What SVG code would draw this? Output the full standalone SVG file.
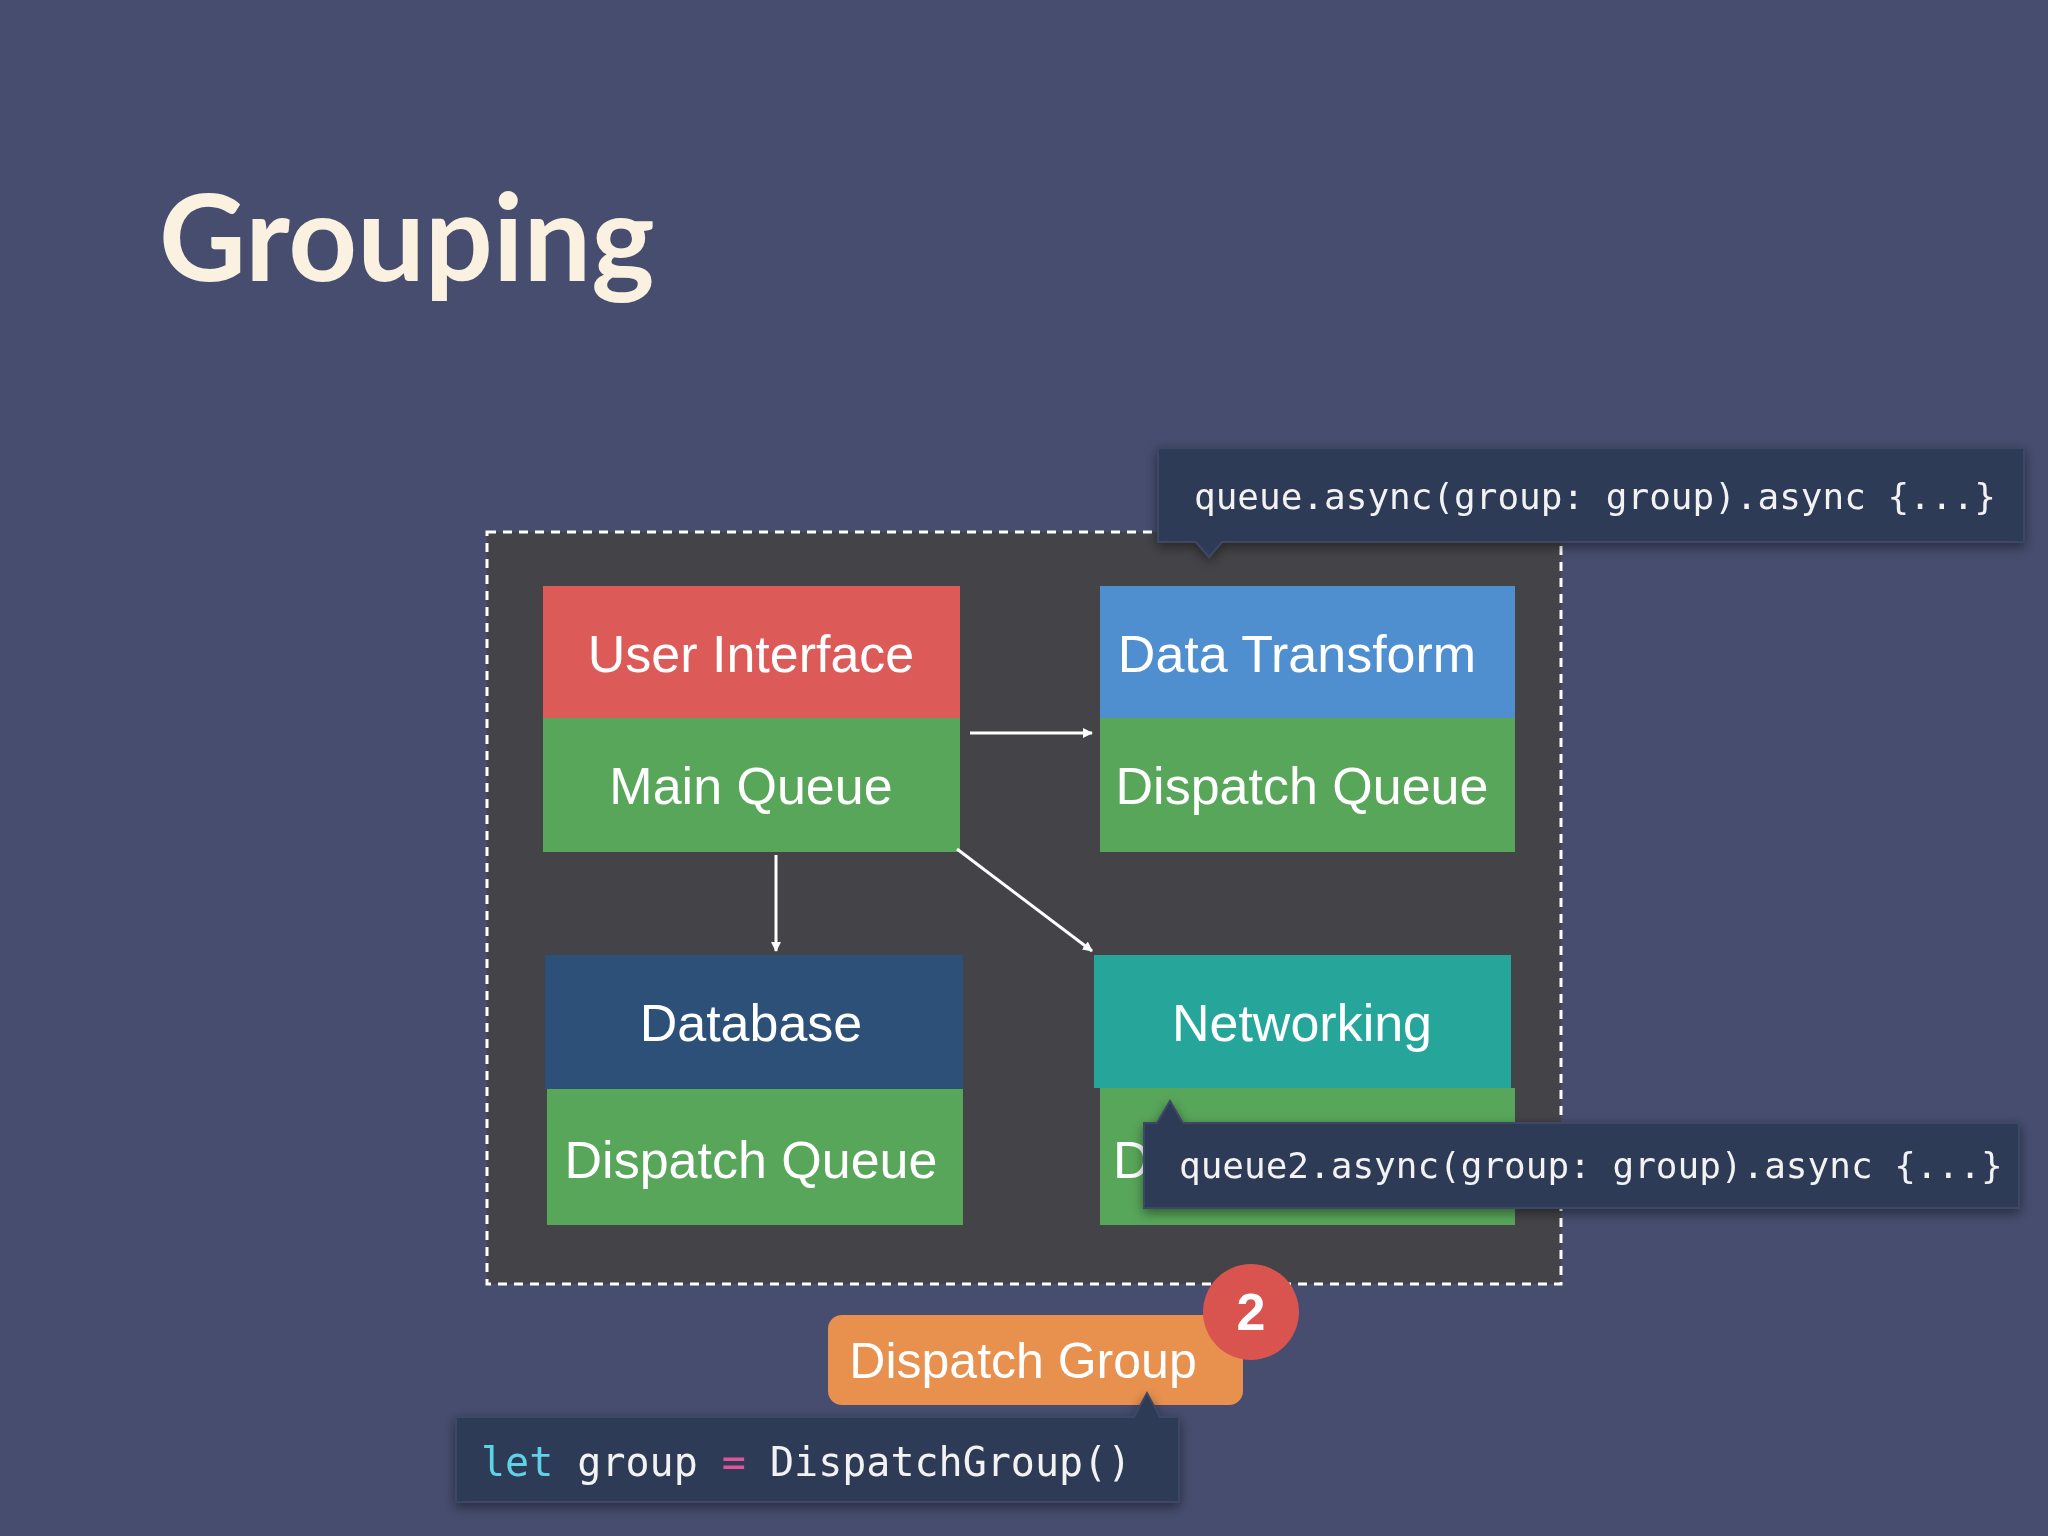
<svg xmlns="http://www.w3.org/2000/svg" width="2048" height="1536" viewBox="0 0 2048 1536">
<defs>
<style>
.lbl{font-family:"Liberation Sans",Arial,sans-serif;font-size:52px;fill:#ffffff;text-anchor:middle}
.code{font-family:"DejaVu Sans Mono",monospace;font-size:36px;fill:#f2f2f2}
.tip{fill:#2f3a56;stroke:#3d4766;stroke-width:2}
.ar{stroke:#ffffff;stroke-width:3;fill:none;marker-end:url(#ah)}
</style>
<marker id="ah" markerWidth="10" markerHeight="10" refX="9" refY="5" orient="auto" markerUnits="userSpaceOnUse" viewBox="0 0 10 10"><path d="M0,0 L10,5 L0,10 z" fill="#ffffff"/></marker>
<marker id="ah2" markerWidth="16" markerHeight="16" refX="14" refY="8" orient="auto" markerUnits="userSpaceOnUse" viewBox="0 0 16 16"><path d="M0,0 L16,8 L0,16 z" fill="#ffffff"/></marker>
<filter id="sh" x="-10%" y="-30%" width="120%" height="160%"><feDropShadow dx="0" dy="4" stdDeviation="6" flood-color="#000" flood-opacity="0.45"/></filter>
</defs>
<rect width="2048" height="1536" fill="#464d6e"/>
<text x="159" y="281" font-family="Lato,'Open Sans',sans-serif" font-weight="bold" font-size="120" fill="#fbf1e0">Grouping</text>
<g id="group-box"><rect x="487" y="532" width="1074" height="752" fill="#444448" stroke="#ffffff" stroke-width="3" stroke-dasharray="9,7"/></g>
<g id="ui"><rect x="543" y="586" width="417" height="132" fill="#dc5b59"/><rect x="543" y="718" width="417" height="134" fill="#58a65a"/>
<text class="lbl" x="751" y="672">User Interface</text><text class="lbl" x="751" y="804">Main Queue</text></g>
<g id="dt"><rect x="1100" y="586" width="415" height="132" fill="#4f8fd0"/><rect x="1100" y="718" width="415" height="134" fill="#58a65a"/>
<text class="lbl" x="1297" y="672">Data Transform</text><text class="lbl" x="1302" y="804">Dispatch Queue</text></g>
<g id="db"><rect x="545" y="955" width="418" height="134" fill="#2d5078"/><rect x="547" y="1089" width="416" height="136" fill="#58a65a"/>
<text class="lbl" x="751" y="1041">Database</text><text class="lbl" x="751" y="1178">Dispatch Queue</text></g>
<g id="net"><rect x="1094" y="955" width="417" height="133" fill="#26a69a"/><rect x="1100" y="1088" width="415" height="137" fill="#58a65a"/>
<text class="lbl" x="1302" y="1041">Networking</text><text class="lbl" x="1113" y="1178" style="text-anchor:start">D</text></g>
<g id="connectors">
<line class="ar" x1="970" y1="733" x2="1092" y2="733" marker-end="url(#ah2)"/>
<line class="ar" x1="776" y1="855" x2="776" y2="951" marker-end="url(#ah2)"/>
<line class="ar" x1="957" y1="849" x2="1092" y2="951" marker-end="url(#ah2)"/>
</g>
<g id="tip1" filter="url(#sh)"><path class="tip" d="M1158,448 H2024 V542 H1222 L1209,557 L1196,542 H1158 Z"/>
<text class="code" x="1194" y="509">queue.async(group: group).async {...}</text></g>
<g id="tip2" filter="url(#sh)"><path class="tip" d="M1144,1123 H1157 L1170,1101 L1183,1123 H2019 V1208 H1144 Z"/>
<text class="code" x="1179" y="1178">queue2.async(group: group).async {...}</text></g>
<g id="dg"><rect x="828" y="1315" width="415" height="90" rx="14" fill="#e8914f"/>
<text class="lbl" x="1023" y="1378" style="font-size:50px">Dispatch Group</text></g>
<g id="badge"><circle cx="1251" cy="1312" r="48" fill="#d9534f"/><text x="1251" y="1330" text-anchor="middle" font-family="'Liberation Sans',sans-serif" font-weight="bold" font-size="52" fill="#ffffff">2</text></g>
<g id="code" filter="url(#sh)"><path class="tip" d="M456,1417 H1134 L1147,1393 L1160,1417 H1179 V1502 H456 Z"/>
<text class="code" x="481" y="1476" style="font-size:40px"><tspan fill="#5fd3e6">let</tspan> group <tspan fill="#e0559a">=</tspan> DispatchGroup()</text></g>
</svg>
